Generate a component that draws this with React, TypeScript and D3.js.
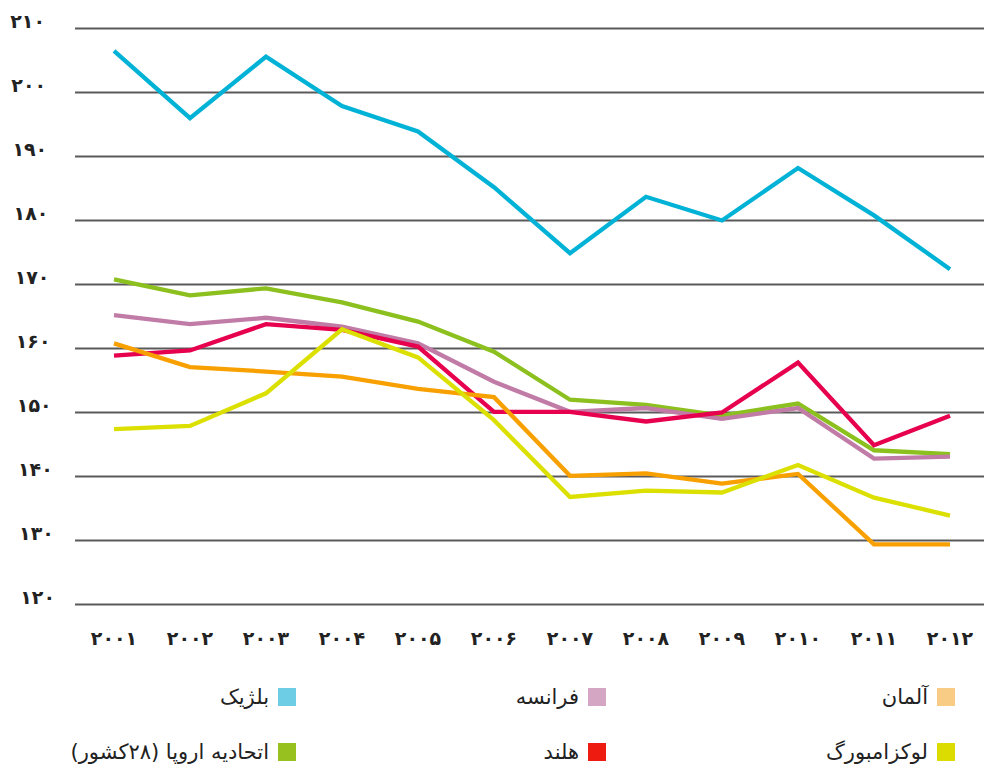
import React, { useEffect, useRef } from "react";
import * as d3 from "d3";

const years = [2001, 2002, 2003, 2004, 2005, 2006, 2007, 2008, 2009, 2010, 2011, 2012];
const yTicks = [120, 130, 140, 150, 160, 170, 180, 190, 200, 210];

const belgium = [206.5, 196.0, 205.6, 197.9, 193.9, 185.2, 174.9, 183.7, 180.0, 188.2, 180.8, 172.4];
const eu28 = [170.8, 168.3, 169.4, 167.2, 164.2, 159.5, 152.0, 151.2, 149.5, 151.4, 144.1, 143.5];
const france = [165.2, 163.8, 164.8, 163.4, 160.8, 154.8, 150.1, 150.7, 149.0, 150.7, 142.8, 143.1];
const netherlands = [158.9, 159.7, 163.8, 162.9, 160.3, 150.1, 150.1, 148.6, 150.0, 157.8, 144.9, 149.5];
const germany = [160.8, 157.1, 156.4, 155.6, 153.7, 152.4, 140.1, 140.5, 138.9, 140.4, 129.4, 129.4];
const luxembourg = [147.4, 147.9, 153.0, 163.0, 158.6, 148.8, 136.8, 137.8, 137.5, 141.8, 136.7, 133.9];

// drawn in this order (last on top)
const series = [
  { name: "اتحادیه اروپا (۲۸کشور)", values: eu28, line: "#8cc01e", swatch: "#97c11f" },
  { name: "فرانسه", values: france, line: "#c17ba7", swatch: "#d4a6c3" },
  { name: "هلند", values: netherlands, line: "#e6004e", swatch: "#ee1b10" },
  { name: "آلمان", values: germany, line: "#f8a000", swatch: "#f8cc84" },
  { name: "لوکزامبورگ", values: luxembourg, line: "#dbe000", swatch: "#dcdc00" },
  { name: "بلژیک", values: belgium, line: "#00b2d6", swatch: "#6ccde4" },
];

// legend rows, right to left
const legendRows = [
  ["آلمان", "فرانسه", "بلژیک"],
  ["لوکزامبورگ", "هلند", "اتحادیه اروپا (۲۸کشور)"],
];

const faDigits = "۰۱۲۳۴۵۶۷۸۹";
const toFa = (n: number) => String(n).replace(/\d/g, (c) => faDigits[+c]);

const App = () => {
  const svgRef = useRef<SVGSVGElement>(null);

  useEffect(() => {
    const width = 984;
    const height = 772;
    const svg = d3.select(svgRef.current).attr("width", width).attr("height", height);
    svg.selectAll("*").remove();

    const x = d3.scalePoint<number>().domain(years).range([114, 950]);
    const y = d3.scaleLinear().domain([120, 210]).range([604.5, 28.5]);
    const labelX = d3.scaleLinear().domain([210, 120]).range([45, 55]);
    const font = "'DejaVu Sans', sans-serif";

    // grid
    svg
      .append("g")
      .selectAll("line")
      .data(yTicks)
      .enter()
      .append("line")
      .attr("x1", 75)
      .attr("x2", width)
      .attr("y1", (d) => y(d))
      .attr("y2", (d) => y(d))
      .attr("stroke", "#5a5a5a")
      .attr("stroke-width", 1.8);

    svg
      .append("g")
      .selectAll("text")
      .data(yTicks)
      .enter()
      .append("text")
      .attr("x", (d) => labelX(d))
      .attr("y", (d) => y(d) - 1)
      .attr("text-anchor", "end")
      .style("font-family", font)
      .style("font-size", "19px")
      .style("font-weight", "bold")
      .attr("fill", "#222")
      .text((d) => toFa(d));

    svg
      .append("g")
      .selectAll("text")
      .data(years)
      .enter()
      .append("text")
      .attr("x", (d) => x(d)!)
      .attr("y", 645)
      .attr("text-anchor", "middle")
      .style("font-family", font)
      .style("font-size", "19px")
      .style("font-weight", "bold")
      .attr("fill", "#222")
      .text((d) => toFa(d));

    const line = d3
      .line<number>()
      .x((_, i) => x(years[i])!)
      .y((d) => y(d));

    svg
      .append("g")
      .selectAll("path")
      .data(series)
      .enter()
      .append("path")
      .attr("d", (d) => line(d.values))
      .attr("fill", "none")
      .attr("stroke", (d) => d.line)
      .attr("stroke-width", 4.3)
      .attr("stroke-linejoin", "miter");

    // legend
    const colX = [955, 606, 296];
    const rowY = [697, 752];
    const legend = svg.append("g");
    legendRows.forEach((row, r) => {
      row.forEach((name, c) => {
        const s = series.find((q) => q.name === name)!;
        legend
          .append("rect")
          .attr("x", colX[c] - 18)
          .attr("y", rowY[r] - 9)
          .attr("width", 18)
          .attr("height", 18)
          .attr("fill", s.swatch);
        legend
          .append("text")
          .attr("x", colX[c] - 27)
          .attr("y", rowY[r] + 7)
          .attr("text-anchor", "start")
          .style("direction", "rtl")
          .style("font-family", font)
          .style("font-size", "21px")
          .attr("fill", "#222")
          .text(name);
      });
    });
  }, []);

  return (
    <div style={{ position: "absolute", left: 0, top: 0 }}>
      <svg ref={svgRef} style={{ display: "block" }}></svg>
    </div>
  );
};

export default App;
